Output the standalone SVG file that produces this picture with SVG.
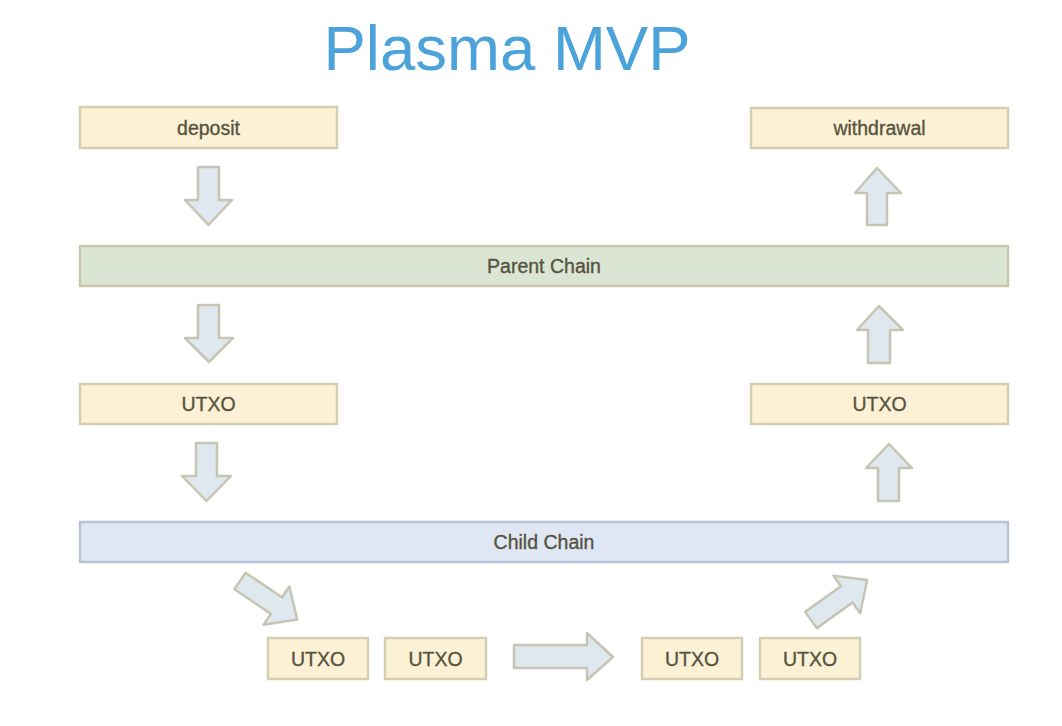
<svg xmlns="http://www.w3.org/2000/svg" width="1062" height="726" viewBox="0 0 1062 726">
<style>
.y{fill:#fcf1d4;stroke:#d4ceb2;stroke-width:2.5}
.g{fill:#dae5d3;stroke:#cbc7ae;stroke-width:2.5}
.b{fill:#dfe7f5;stroke:#b7c3d6;stroke-width:2.5}
.t{font-family:"Liberation Sans",Arial,sans-serif;font-size:19.5px;fill:#57533f;stroke:#57533f;stroke-width:0.35;text-anchor:middle}
.a{fill:#dfe7ef;stroke:#c6c5b4;stroke-width:2.5;stroke-linejoin:round}
.title{font-family:"Liberation Sans",Arial,sans-serif;font-size:63.5px;fill:#4ba3d9;text-anchor:middle}
</style>
<defs>
<path id="diag" d="M0,-10 L44,-10 L44,-23 L69,0 L44,23 L44,10 L0,10 Z"/>
</defs>
<rect width="1062" height="726" fill="#ffffff"/>
<text class="title" x="507" y="70">Plasma MVP</text>

<g id="deposit"><rect class="y" x="80" y="107" width="257" height="41"/><text class="t" x="208.5" y="134.5">deposit</text></g>
<g id="withdrawal"><rect class="y" x="751" y="108" width="257" height="40"/><text class="t" x="879.5" y="135">withdrawal</text></g>
<g id="parent-chain"><rect class="g" x="80" y="246" width="928" height="40"/><text class="t" x="544" y="273">Parent Chain</text></g>
<g id="utxo-left"><rect class="y" x="80" y="384" width="257" height="40"/><text class="t" x="208.5" y="411">UTXO</text></g>
<g id="utxo-right"><rect class="y" x="751" y="384" width="257" height="40"/><text class="t" x="879.5" y="411">UTXO</text></g>
<g id="child-chain"><rect class="b" x="80" y="522" width="928" height="40"/><text class="t" x="544" y="549">Child Chain</text></g>
<g id="utxo-b1"><rect class="y" x="268" y="638" width="100" height="41"/><text class="t" x="318" y="665.5">UTXO</text></g>
<g id="utxo-b2"><rect class="y" x="385" y="638" width="101" height="41"/><text class="t" x="435.5" y="665.5">UTXO</text></g>
<g id="utxo-b3"><rect class="y" x="642" y="638" width="100" height="41"/><text class="t" x="692" y="665.5">UTXO</text></g>
<g id="utxo-b4"><rect class="y" x="760" y="638" width="100" height="41"/><text class="t" x="810" y="665.5">UTXO</text></g>

<g id="connectors">
<path class="a" d="M198,167 L219,167 L219,200 L232,200 L208.5,225 L185,200 L198,200 Z"/>
<path class="a" d="M198,305 L219,305 L219,338 L233,338 L209,362 L185,338 L198,338 Z"/>
<path class="a" d="M196,443 L217,443 L217,476 L231,476 L206.5,501 L182,476 L196,476 Z"/>
<path class="a" d="M867,225 L887,225 L887,193 L901,193 L877,168 L855,193 L867,193 Z"/>
<path class="a" d="M868,363 L890,363 L890,330 L903,330 L879,306 L857,330 L868,330 Z"/>
<path class="a" d="M878,501 L899,501 L899,468 L912,468 L889,444 L866,468 L878,468 Z"/>
<path class="a" d="M514,645 L587,645 L587,633 L613,657 L587,680 L587,668 L514,668 Z"/>
<use href="#diag" class="a" transform="translate(240,581) rotate(34)"/>
<use href="#diag" class="a" transform="translate(811,620) rotate(-35.5)"/>
</g>
</svg>
